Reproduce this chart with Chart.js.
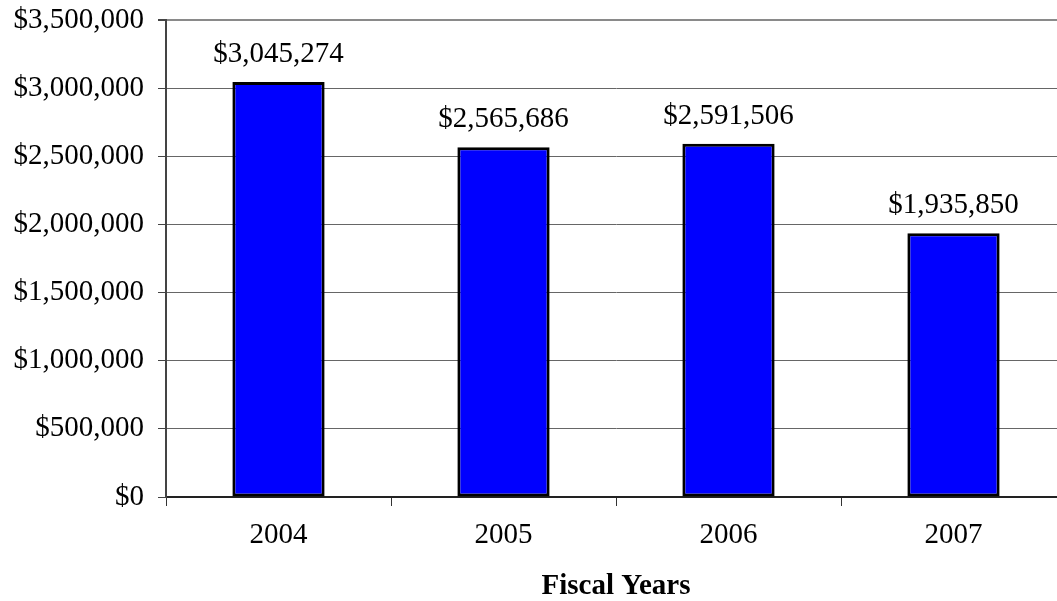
<!DOCTYPE html>
<html>
<head>
<meta charset="utf-8">
<script src="https://cdn.jsdelivr.net/npm/chart.js@4/dist/chart.umd.min.js"></script>
<style>
  html, body { margin: 0; padding: 0; background: #fff; overflow: hidden; }
  #wrap { width: 1057px; height: 601px; overflow: hidden; }
</style>
</head>
<body>
<div id="wrap"><canvas id="c" width="1090" height="601"></canvas></div>
<script>
// Fiscal-year totals
const years = ['2004', '2005', '2006', '2007'];
const totals = [3045274, 2565686, 2591506, 1935850];
const axisMax = 3500000;
const axisStep = 500000;
const axisTitle = 'Fiscal Years';

const money = v => '$' + Number(v).toLocaleString('en-US');
const SERIF = '"Liberation Serif", "Times New Roman", serif';

// Writes each bar's value above it
const valueLabels = {
  id: 'valueLabels',
  afterDatasetsDraw(chart) {
    const ctx = chart.ctx;
    const meta = chart.getDatasetMeta(0);
    ctx.save();
    ctx.font = '29px ' + SERIF;
    ctx.fillStyle = '#000';
    ctx.textAlign = 'center';
    ctx.textBaseline = 'alphabetic';
    meta.data.forEach((bar, i) => {
      ctx.fillText(money(totals[i]), bar.x, bar.y - 20);
    });
    ctx.restore();
  }
};

new Chart(document.getElementById('c'), {
  type: 'bar',
  data: {
    labels: years,
    datasets: [{
      data: totals,
      backgroundColor: '#0000FF',
      borderColor: '#000000',
      borderWidth: 3,
      borderSkipped: false,
      categoryPercentage: 1,
      barPercentage: 0.41
    }]
  },
  options: {
    responsive: false,
    animation: false,
    layout: { padding: { top: 20, right: 24, bottom: 0, left: 0 } },
    plugins: { legend: { display: false }, tooltip: { enabled: false } },
    scales: {
      x: {
        grid: { drawOnChartArea: false, drawTicks: true, tickLength: 9, tickColor: '#333', offset: true },
        border: { color: '#222', width: 2 },
        ticks: { color: '#000', font: { family: SERIF, size: 29 }, padding: 12 },
        title: { display: true, text: axisTitle, color: '#000', font: { family: SERIF, size: 29, weight: 'bold' }, padding: { top: 0, bottom: -3 } },
        afterFit(scale) { scale.height = 104; }
      },
      y: {
        min: 0,
        max: axisMax,
        grid: {
          color: ctx => (ctx.tick && ctx.tick.value === axisMax) ? '#8a8a8a' : '#666',
          lineWidth: ctx => (ctx.tick && ctx.tick.value === axisMax) ? 2 : 1,
          drawTicks: true, tickLength: 8, tickColor: '#444'
        },
        border: { color: '#444', width: 2 },
        ticks: { stepSize: axisStep, color: '#000', font: { family: SERIF, size: 29 }, padding: 14, callback: v => money(v) },
        afterFit(scale) {
          scale.width = 166;
          scale.paddingTop = 0;
          scale.paddingBottom = 0;
        }
      }
    }
  },
  plugins: [valueLabels]
});
</script>
</body>
</html>
